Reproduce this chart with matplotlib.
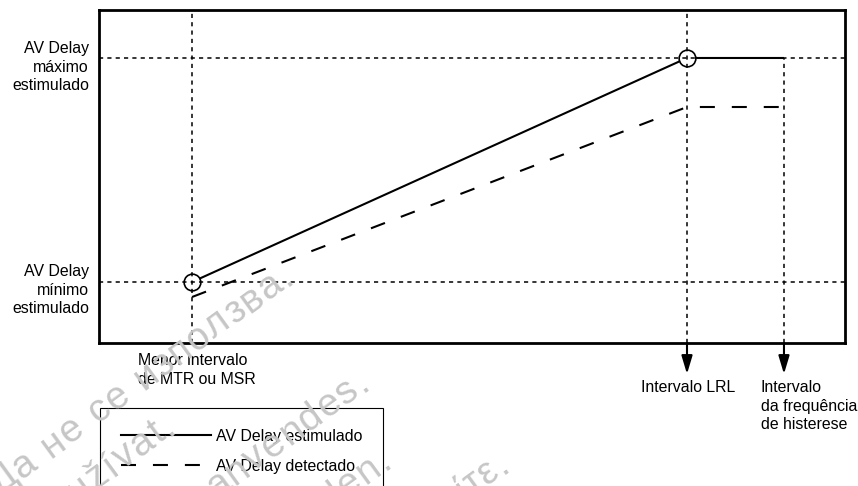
import math
import matplotlib
matplotlib.use("Agg")
import matplotlib.pyplot as plt
from matplotlib.lines import Line2D
from matplotlib import font_manager, ft2font

plt.rcParams['font.family'] = ['Liberation Sans', 'DejaVu Sans']
plt.rcParams['lines.scale_dashes'] = False

# ---- data (schematic units: 0-100 on both axes) ----
interval_names = ["Menor intervalo\nde MTR ou MSR", "Intervalo LRL",
                  "Intervalo\nda frequência\nde histerese"]
interval_x = [12.47, 78.82, 91.82]           # MTR/MSR, LRL, hysteresis
paced_av = [18.32, 85.59, 85.59]             # AV Delay estimulado
sensed_av = [13.81, 70.87, 70.87]            # AV Delay detectado
ref_labels = ["AV Delay\nmínimo\nestimulado", "AV Delay\nmáximo\nestimulado"]
ref_y = [paced_av[0], paced_av[1]]
legend_labels = ["AV Delay estimulado", "AV Delay detectado"]

W, H = 858, 486
FS = 11.4
fig = plt.figure(figsize=(W / 100, H / 100), dpi=100)
ax = fig.add_axes([99 / W, (H - 343) / H, 746 / W, 333 / H])
ax.set_xlim(0, 100)
ax.set_ylim(0, 100)
ax.set_xticks([])
ax.set_yticks([])
for s in ax.spines.values():
    s.set_linewidth(2.0)
    s.set_color('black')

dot = (0, (3, 3))
# reference dotted lines
for y in ref_y:
    ax.axhline(y, color='black', lw=1.1, ls=dot, zorder=4)
ax.axvline(interval_x[0], color='black', lw=1.1, ls=dot, zorder=4)
ax.axvline(interval_x[1], color='black', lw=1.1, ls=dot, zorder=4)
ax.vlines(interval_x[2], 0, paced_av[2], color='black', lw=1.1, ls=dot, zorder=4)

# series
ax.plot(interval_x, paced_av, color='black', lw=1.5, solid_capstyle='butt', zorder=2)
ax.plot(interval_x, sensed_av, color='black', lw=1.5, ls=(0, (10.8, 12.2)), zorder=2)
ax.plot(interval_x[:2], paced_av[:2], ls='none', marker='o', ms=12,
        mfc='white', mec='black', mew=1.2, zorder=3)

# y reference labels
px_y = lambda p: (343 - p) / 3.33
px_x = lambda p: (p - 99) / 7.46
ax.text(px_x(89), px_y(290), ref_labels[0], ha='right', va='center',
        fontsize=FS, linespacing=1.3)
ax.text(px_x(89), px_y(67), ref_labels[1], ha='right', va='center',
        fontsize=FS, linespacing=1.3)

# interval labels
ax.text(px_x(138), px_y(353), interval_names[0], ha='left', va='top',
        fontsize=FS, linespacing=1.3)
ax.text(px_x(641), px_y(387), interval_names[1], ha='left', va='center',
        fontsize=FS, linespacing=1.3)
ax.text(px_x(761), px_y(406), interval_names[2], ha='left', va='center',
        fontsize=FS, linespacing=1.3)

# arrows below axis
for xv in interval_x[1:]:
    ax.annotate('', xy=(xv, px_y(374)), xytext=(xv, 0), annotation_clip=False,
                arrowprops=dict(arrowstyle='-|>,head_length=1.1,head_width=0.33',
                                lw=1.5, color='black', shrinkA=0, shrinkB=0,
                                mutation_scale=10))

# legend
handles = [Line2D([], [], color='black', lw=1.5),
           Line2D([], [], color='black', lw=1.5, ls=(0, (10.8, 12.2)))]
leg = ax.legend(handles, legend_labels, loc='upper left',
                bbox_to_anchor=(100 / W, 1 - 408 / H), bbox_transform=fig.transFigure,
                borderaxespad=0, fontsize=FS, handlelength=5.7, handletextpad=0.3,
                borderpad=1.3, labelspacing=0.95, fancybox=False, framealpha=1,
                edgecolor='black')
leg.get_frame().set_linewidth(0.8)

# watermarks (faint, rotated, letter-spaced)
wm_font_path = font_manager.findfont(font_manager.FontProperties(family='Liberation Sans'))
wm_ft = ft2font.FT2Font(wm_font_path)
WM_FS = 28
wm_ft.set_size(WM_FS, 72)


def adv_px(ch):
    g = wm_ft.load_char(ord(ch))
    return g.linearHoriAdvance / 65536 * 100 / 72


def watermark(s, end_px, angle=36, track=1.5, color='#c6c6c6'):
    dx, dy = math.cos(math.radians(angle)), math.sin(math.radians(angle))
    advs = [adv_px(c) + track for c in s]
    total = sum(advs)
    x0 = end_px[0] - total * dx
    y0 = end_px[1] + total * dy
    pos = 0.0
    for c, a in zip(s, advs):
        xp = x0 + pos * dx
        yp = y0 - pos * dy
        pos += a
        if c == ' ' or xp < -60 or xp > W + 10 or yp > H + 60 or yp < -10:
            continue
        fig.text(xp / W, 1 - yp / H, c, rotation=angle, rotation_mode='anchor',
                 ha='left', va='baseline', fontsize=WM_FS, color=color,
                 family='Liberation Sans', zorder=10)


watermark("Остаряла версия. Да не се използва.", (296, 280))
watermark("Zastaralá verze. Nepoužívat.", (178, 430))
watermark("Forældet version. Må ikke anvendes.", (372, 386))
watermark("Veraltete Version. Nicht verwenden.", (394, 464))
watermark("Παρωχημένη έκδοση. Μην τη χρησιμοποιείτε.", (512, 468))

fig.savefig("out.png", dpi=100)
